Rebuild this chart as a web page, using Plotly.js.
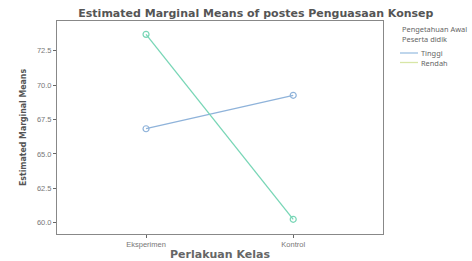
<!DOCTYPE html>
<html><head><meta charset="utf-8">
<script src="https://cdn.plot.ly/plotly-3.0.1.min.js"></script>
<style>html,body{margin:0;padding:0;background:#fff}#c{width:472px;height:261px}</style>
</head><body><div id="c"></div>
<script>
const categories = ["Eksperimen", "Kontrol"];
const seriesNames = ["Tinggi", "Rendah"];
const tinggi = [66.83, 69.26];
const rendah = [73.69, 60.25];
const yTicks = [60.0, 62.5, 65.0, 67.5, 70.0, 72.5];
const yTickLabels = ["60.0", "62.5", "65.0", "67.5", "70.0", "72.5"];
const legendTitle = ["Pengetahuan Awal", "Peserta didik"];

const colors = ["#8fb3da", "#78d6b6"];
const legendColors = ["#9cc0e2", "#d8e6a6"];
const traces = [tinggi, rendah].map((v, i) => ({
  x: categories, y: v, name: seriesNames[i], type: "scatter", mode: "lines+markers",
  showlegend: false,
  line: {color: colors[i], width: 1.3},
  marker: {symbol: "circle-open", size: 6, color: colors[i], line: {width: 1.2}}
}));

const W = 472, H = 261;
const annotations = [], shapes = [];
legendTitle.forEach((t, i) => annotations.push({
  xref: "paper", yref: "paper", x: (400 - 57) / 326, y: (234 - (29 + i * 10)) / 213,
  xanchor: "left", yanchor: "middle", text: t, showarrow: false,
  font: {size: 7.4, color: "#666", family: "Noto Sans, sans-serif"}
}));
seriesNames.forEach((n, i) => {
  const yy = (234 - (53 + i * 9.5)) / 213;
  shapes.push({type: "line", xref: "paper", yref: "paper", x0: (400 - 57) / 326, x1: (418 - 57) / 326, y0: yy, y1: yy,
               line: {color: legendColors[i], width: 1.3}});
  annotations.push({xref: "paper", yref: "paper", x: (419 - 57) / 326, y: yy, xanchor: "left", yanchor: "middle",
                    text: n, showarrow: false, font: {size: 7.4, color: "#666", family: "Noto Sans, sans-serif"}});
});

const layout = {
  width: W, height: H,
  margin: {l: 57, r: 89, t: 21, b: 27},
  paper_bgcolor: "#fff", plot_bgcolor: "#fff",
  font: {family: "Liberation Sans, Arial, sans-serif", color: "#777"},
  title: {text: "<b>Estimated Marginal Means of postes Penguasaan Konsep</b>", xref: "paper", x: 0.61, xanchor: "center", yref: "container", y: 1 - 13 / 261, yanchor: "middle",
          font: {size: 11, color: "#555", family: "DejaVu Sans, sans-serif"}},
  xaxis: {type: "category", range: [-0.605, 1.61], showgrid: false, zeroline: false,
          showline: true, linecolor: "#888", linewidth: 1, mirror: true,
          ticks: "outside", ticklen: 3, tickcolor: "#666",
          tickfont: {size: 7.5, color: "#777"},
          title: {text: "<b>Perlakuan Kelas</b>", standoff: 3, font: {size: 11, color: "#666", family: "DejaVu Sans, sans-serif"}}},
  yaxis: {range: [59.18, 74.66], tickvals: yTicks, ticktext: yTickLabels, showgrid: false, zeroline: false,
          showline: true, linecolor: "#888", linewidth: 1, mirror: true,
          ticks: "outside", ticklen: 3, tickcolor: "#666",
          tickfont: {size: 7.5, color: "#777"},
          title: {text: "<b>Estimated Marginal Means</b>", standoff: 8, font: {size: 8.7, color: "#555", family: "Liberation Sans Narrow, DejaVu Sans Condensed, sans-serif"}}},
  showlegend: false,
  annotations: annotations, shapes: shapes
};
Plotly.newPlot("c", traces, layout, {displayModeBar: false, staticPlot: true});
</script></body></html>
